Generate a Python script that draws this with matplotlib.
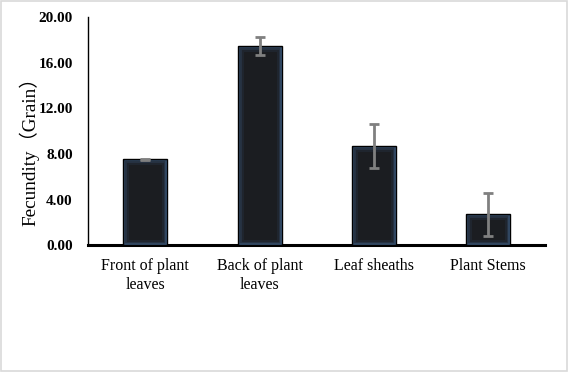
import matplotlib
matplotlib.use('Agg')
from matplotlib import pyplot as plt
from matplotlib.patches import Rectangle

categories = ['Front of plant\nleaves', 'Back of plant\nleaves', 'Leaf sheaths', 'Plant Stems']
fecundity = [7.52, 17.48, 8.66, 2.69]
errors = [0.05, 0.78, 1.93, 1.90]
yticks = [0, 4, 8, 12, 16, 20]

plt.rcParams['font.family'] = ['Liberation Serif', 'Noto Sans CJK SC']

fig = plt.figure(figsize=(5.68, 3.72), dpi=100)
ax = fig.add_axes([0.155, 0.341, 0.805, 0.613])

x = range(len(categories))
bars = ax.bar(x, fecundity, width=0.385, color='#1b1d21', edgecolor='none', zorder=2)

# soft blue glow along the inside edge of each bar
for b in bars:
    for lw, a in [(8, 0.12), (5, 0.2), (3, 0.35), (1.6, 0.6)]:
        r = Rectangle(b.get_xy(), b.get_width(), b.get_height(), fill=False,
                      edgecolor='#44678f', linewidth=lw, alpha=a, zorder=3)
        ax.add_patch(r)
        r.set_clip_path(b)
    ax.add_patch(Rectangle(b.get_xy(), b.get_width(), b.get_height(), fill=False,
                           edgecolor='black', linewidth=1.0, zorder=4))

ax.errorbar(x, fecundity, yerr=errors, fmt='none', ecolor='#808080',
            elinewidth=2, capsize=3.5, capthick=2, zorder=5)

ax.set_xlim(-0.5, 3.5)
ax.set_ylim(0, 20)
ax.set_yticks(yticks)
ax.set_yticklabels(['%.2f' % v for v in yticks], fontweight='bold', fontsize=11)
ax.set_xticks(list(x))
ax.set_xticklabels(categories, fontsize=11.5, linespacing=1.3)
ax.tick_params(axis='both', length=0)
ax.tick_params(axis='x', pad=9)
ax.tick_params(axis='y', pad=11)
ax.set_ylabel('Fecundity（Grain）', fontsize=13.8)
ax.yaxis.set_label_coords(-0.106, 0.43)

ax.spines['top'].set_visible(False)
ax.spines['right'].set_visible(False)
ax.spines['left'].set_linewidth(1.0)
ax.spines['bottom'].set_linewidth(2.2)

fig.patches.append(Rectangle((0.002, 0.003), 0.996, 0.994, transform=fig.transFigure,
                             fill=False, edgecolor='#d9d9d9', linewidth=1.2))

fig.savefig('out.png', dpi=100)
